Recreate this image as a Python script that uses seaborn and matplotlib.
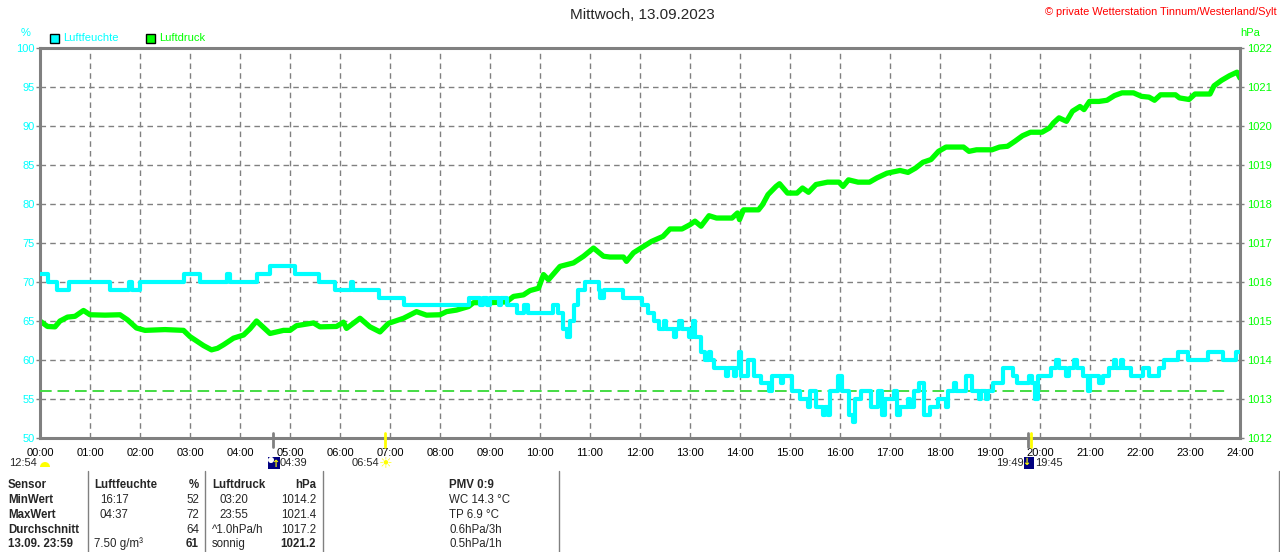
import matplotlib
matplotlib.use("Agg")
import matplotlib.pyplot as plt
import matplotlib.transforms as mtransforms
from matplotlib.patches import Rectangle, Wedge, Circle
import seaborn as sns
import pandas as pd

# Luftfeuchte (%) - Stufenwerte, Zeit in Stunden
feuchte_zeit = [0.00, 0.15, 0.33, 0.57, 1.40, 1.78, 1.83, 2.00, 2.87, 3.20, 3.73, 3.80, 4.33, 4.60,
                5.10, 5.57, 5.90, 6.22, 6.25, 6.77, 7.28, 8.57, 8.80, 8.85, 8.95, 9.00, 9.18, 9.22,
                9.33, 9.53, 9.68, 9.75, 10.25, 10.35, 10.45, 10.53, 10.60, 10.67, 10.75, 10.90, 11.17,
                11.20, 11.28, 11.65, 12.03, 12.15, 12.27, 12.37, 12.48, 12.52, 12.68, 12.72, 12.78,
                12.84, 12.97, 13.05, 13.09, 13.22, 13.30, 13.38, 13.42, 13.47, 13.72, 13.76, 13.88,
                13.92, 13.97, 14.01, 14.15, 14.28, 14.42, 14.58, 14.63, 14.82, 14.86, 15.03, 15.20,
                15.35, 15.40, 15.52, 15.65, 15.70, 15.75, 15.80, 15.95, 16.03, 16.17, 16.26, 16.31,
                16.41, 16.62, 16.76, 16.84, 16.90, 17.07, 17.13, 17.20, 17.35, 17.40, 17.47, 17.58,
                17.68, 17.80, 17.95, 18.12, 18.16, 18.28, 18.32, 18.52, 18.65, 18.78, 18.82, 18.92,
                18.96, 19.05, 19.25, 19.45, 19.53, 19.78, 19.83, 19.90, 19.96, 20.22, 20.32, 20.37,
                20.52, 20.57, 20.68, 20.74, 20.85, 20.95, 21.00, 21.17, 21.25, 21.37, 21.48, 21.52,
                21.62, 21.65, 21.82, 22.05, 22.17, 22.38, 22.48, 22.75, 22.95, 23.35, 23.65, 23.92,
                24.00]
feuchte_wert = [71, 70, 69, 70, 69, 70, 69, 70, 71, 70, 71, 70, 71, 72,
                71, 70, 69, 70, 69, 68, 67, 68, 67, 68, 67, 68, 67, 68,
                67, 66, 67, 66, 67, 66, 64, 63, 65, 67, 69, 70, 69,
                68, 69, 68, 67, 66, 65, 64, 65, 64, 63, 64, 65,
                64, 63, 65, 63, 61, 60, 61, 60, 59, 58, 59, 58,
                59, 61, 58, 60, 58, 57, 56, 58, 57, 58, 56, 55,
                54, 56, 54, 53, 54, 53, 56, 58, 56, 53, 52, 55,
                56, 54, 56, 53, 55, 56, 53, 54, 55, 54, 56, 57,
                53, 54, 55, 54, 56, 57, 56, 58, 56, 55, 56, 55,
                56, 57, 59, 58, 57, 58, 57, 55, 58, 59, 60, 59,
                58, 59, 60, 59, 58, 56, 58, 57, 58, 59, 60, 59,
                60, 59, 58, 59, 58, 59, 60, 61, 60, 61, 60, 61,
                61]

# Luftdruck (hPa)
druck_zeit = [0.00, 0.15, 0.30, 0.40, 0.55, 0.70, 0.87, 1.00, 1.30, 1.60, 1.75, 1.93, 2.10, 2.50,
              2.87, 3.00, 3.27, 3.43, 3.55, 3.67, 3.87, 4.07, 4.20, 4.33, 4.50, 4.60, 4.87, 5.00,
              5.13, 5.47, 5.60, 5.93, 6.07, 6.13, 6.40, 6.60, 6.80, 6.97, 7.27, 7.53, 7.73, 8.00,
              8.13, 8.33, 8.57, 8.67, 9.00, 9.33, 9.47, 9.67, 9.80, 9.97, 10.07, 10.17, 10.40,
              10.67, 10.87, 11.07, 11.27, 11.40, 11.67, 11.73, 11.87, 12.13, 12.23, 12.46, 12.60,
              12.84, 13.00, 13.10, 13.22, 13.38, 13.53, 13.84, 13.95, 13.99, 14.07, 14.37, 14.45,
              14.56, 14.72, 14.79, 14.95, 15.14, 15.25, 15.37, 15.52, 15.75, 15.98, 16.06, 16.17,
              16.36, 16.59, 16.74, 16.94, 17.20, 17.36, 17.51, 17.66, 17.82, 17.97, 18.12, 18.47,
              18.58, 18.73, 19.04, 19.19, 19.35, 19.50, 19.65, 19.81, 20.04, 20.19, 20.27, 20.38,
              20.53, 20.65, 20.80, 20.88, 20.99, 21.18, 21.34, 21.49, 21.64, 21.87, 22.03, 22.18,
              22.29, 22.41, 22.71, 22.79, 22.98, 23.10, 23.40, 23.48, 23.63, 23.79, 23.94, 24.00]
druck_wert = [1015.00, 1014.86, 1014.85, 1015.00, 1015.10, 1015.12, 1015.27, 1015.16, 1015.15,
              1015.16, 1015.03, 1014.82, 1014.76, 1014.78, 1014.76, 1014.60, 1014.37, 1014.26,
              1014.30, 1014.39, 1014.56, 1014.64, 1014.80, 1015.00, 1014.80, 1014.68, 1014.76,
              1014.76, 1014.88, 1014.95, 1014.85, 1014.86, 1014.97, 1014.81, 1015.07, 1014.85,
              1014.72, 1014.94, 1015.07, 1015.24, 1015.15, 1015.16, 1015.24, 1015.28, 1015.37,
              1015.47, 1015.47, 1015.49, 1015.63, 1015.67, 1015.78, 1015.84, 1016.19, 1016.06,
              1016.40, 1016.49, 1016.66, 1016.87, 1016.66, 1016.64, 1016.64, 1016.53, 1016.75,
              1016.96, 1017.04, 1017.17, 1017.36, 1017.36, 1017.47, 1017.56, 1017.43, 1017.70,
              1017.64, 1017.64, 1017.77, 1017.60, 1017.85, 1017.85, 1017.98, 1018.24, 1018.45,
              1018.52, 1018.28, 1018.28, 1018.41, 1018.30, 1018.50, 1018.56, 1018.56, 1018.45,
              1018.62, 1018.56, 1018.56, 1018.67, 1018.79, 1018.86, 1018.81, 1018.92, 1019.07,
              1019.14, 1019.35, 1019.46, 1019.46, 1019.35, 1019.39, 1019.39, 1019.46, 1019.48,
              1019.61, 1019.75, 1019.84, 1019.84, 1019.95, 1020.08, 1020.21, 1020.12, 1020.38,
              1020.50, 1020.42, 1020.63, 1020.63, 1020.66, 1020.78, 1020.85, 1020.85, 1020.76,
              1020.74, 1020.66, 1020.80, 1020.80, 1020.72, 1020.68, 1020.82, 1020.82, 1021.03,
              1021.17, 1021.29, 1021.38, 1021.23]

stunden = list(range(25))
stunden_labels = [f"{h:02d}:00" for h in stunden]
feuchte_ticks = list(range(50, 101, 5))
druck_ticks = list(range(1012, 1023))
feuchte_linie = 56      # gruene gestrichelte Linie
feuchte_linie_ende = 23.8

# Mond/Sonne Zeiten (Stunden)
mond_auf, sonne_auf, mond_unter, sonne_unter = 4.65, 6.9, 19.75, 19.817

# Tabelle unten
tab_sensor = ["Sensor", "MinWert", "MaxWert", "Durchschnitt", "13.09. 23:59"]
tab_feuchte_zeit = ["Luftfeuchte", "16:17", "04:37", "", "7.50 g/m³"]
tab_feuchte_wert = ["%", "52", "72", "64", "61"]
tab_druck_zeit = ["Luftdruck", "03:20", "23:55", "^1.0hPa/h", "sonnig"]
tab_druck_wert = ["hPa", "1014.2", "1021.4", "1017.2", "1021.2"]
tab_extra = ["PMV 0:9", "WC 14.3 °C", "TP 6.9 °C", "0.6hPa/3h", "0.5hPa/1h"]

CYAN = "#00ffff"
GRUEN = "#00ff00"
GRAU = "#808080"
W, H = 1280, 552

sns.set_theme(style="white")
plt.rcParams['font.family'] = ['Liberation Sans', 'DejaVu Sans']


def fx(x):
    return x / W


def fy(y):
    return 1 - y / H


fig = plt.figure(figsize=(12.8, 5.52), dpi=100)
ax = fig.add_axes([fx(40), fy(438), 1200 / W, 390 / H])   # Luftdruck + Gitter
ax2 = ax.twinx()                                          # Luftfeuchte oben drauf

df_druck = pd.DataFrame({"Zeit": druck_zeit, "Luftdruck": druck_wert})
df_feuchte = pd.DataFrame({"Zeit": feuchte_zeit, "Luftfeuchte": feuchte_wert})

sns.lineplot(data=df_druck, x="Zeit", y="Luftdruck", ax=ax, color=GRUEN, lw=3.8,
             estimator=None, sort=False)
ax2.hlines(feuchte_linie, 0, feuchte_linie_ende, color="#44dd44", lw=1.4,
           linestyles=(0, (6, 3)))
sns.lineplot(data=df_feuchte, x="Zeit", y="Luftfeuchte", ax=ax2, color=CYAN, lw=3,
             estimator=None, sort=False, drawstyle="steps-post")

ax.set_xlim(0, 24)
ax.set_ylim(1012, 1022)
ax2.set_ylim(50, 100)
for a in (ax, ax2):
    a.set_xlabel("")
    a.set_ylabel("")

ax.set_xticks(stunden)
ax.set_xticklabels(stunden_labels)
ax.set_yticks(druck_ticks)
ax2.set_yticks(feuchte_ticks)

# Achsen tauschen: Druck rechts, Feuchte links
ax.yaxis.tick_right()
ax2.yaxis.tick_left()

ax.grid(True, color=GRAU, lw=1, linestyle=(0, (4, 3)))
ax.tick_params(axis="x", length=0, pad=7, labelsize=8, colors="black")
ax.tick_params(axis="y", length=3, width=1, color=GRAU, pad=2, labelsize=8, labelcolor=GRUEN,
               right=True, left=False)
ax2.tick_params(axis="y", length=3, width=1, color=GRAU, pad=1, labelsize=8, labelcolor=CYAN,
                left=True, right=False)
for s in ax.spines.values():
    s.set_color(GRAU)
    s.set_linewidth(2.2)
for s in ax2.spines.values():
    s.set_visible(False)
ax.set_facecolor("white")

# Auf- / Untergang Markierungen unter der Achse
trans = mtransforms.blended_transform_factory(ax.transData, ax.transAxes)
for t, c in [(mond_auf, GRAU), (sonne_auf, "#ffff00"), (mond_unter, GRAU), (sonne_unter, "#ffff00")]:
    ax.plot([t, t], [-0.023, 0.012], color=c, lw=2, transform=trans, clip_on=False, zorder=5)

# Titel
fig.text(fx(642), fy(15), "Mittwoch, 13.09.2023", ha="center", va="center", fontsize=11)
fig.text(fx(1277), fy(12), "© private Wetterstation Tinnum/Westerland/Sylt", ha="right",
         va="center", fontsize=7.9, color="#ff0000")
fig.text(fx(26), fy(33), "%", ha="center", va="center", fontsize=8, color=CYAN)
fig.text(fx(1250), fy(33), "hPa", ha="center", va="center", fontsize=8, color=GRUEN)

# Legende
for x0, col, txt in [(50, CYAN, "Luftfeuchte"), (146, GRUEN, "Luftdruck")]:
    fig.add_artist(Rectangle((fx(x0), fy(43)), 9 / W, 9 / H, transform=fig.transFigure,
                             facecolor=col, edgecolor="black", lw=1))
    fig.text(fx(x0 + 13), fy(38), txt, ha="left", va="center", fontsize=8, color=col)

# Mond / Sonne Symbole (Pixelkoordinaten)
pix = mtransforms.IdentityTransform()
fig.text(fx(37), fy(463), "12:54", ha="right", va="center", fontsize=8)
fig.add_artist(Wedge((45, H - 467), 5, 0, 180, transform=pix,
                     facecolor="#ffff00", edgecolor="none"))
fig.add_artist(Rectangle((268, H - 469), 12, 12, transform=pix,
                         facecolor="#000080", edgecolor="none"))
fig.add_artist(Circle((271, H - 460), 3, transform=pix, facecolor="white", edgecolor="none"))
fig.text(fx(275), fy(464), "↑", ha="center", va="center", fontsize=7, color="#ffff00",
         fontweight="bold", family="DejaVu Sans")
fig.text(fx(280), fy(463), "04:39", ha="left", va="center", fontsize=8)
fig.text(fx(379), fy(463), "06:54", ha="right", va="center", fontsize=8)
fig.text(fx(386), fy(463), "☀", ha="center", va="center", fontsize=11, color="#ffff00",
         family="DejaVu Sans")
fig.text(fx(1024), fy(463), "19:49", ha="right", va="center", fontsize=8)
fig.add_artist(Rectangle((1024, H - 469), 10, 12, transform=pix,
                         facecolor="#000080", edgecolor="none"))
fig.text(fx(1026), fy(462), "↓", ha="center", va="center", fontsize=7, color="#ffff00",
         fontweight="bold", family="DejaVu Sans")
fig.text(fx(1035), fy(463), "19:45", ha="left", va="center", fontsize=8)

# Tabelle
zeilen_y = [485, 500, 515, 530, 544]
for x0 in [88, 205, 323, 559]:
    fig.add_artist(plt.Line2D([fx(x0), fx(x0)], [fy(471), fy(552)], color=GRAU, lw=1,
                              transform=fig.transFigure))
fig.add_artist(plt.Line2D([fx(1279), fx(1279)], [fy(471), fy(552)], color=GRAU, lw=1,
                          transform=fig.transFigure))

for i, y in enumerate(zeilen_y):
    kopf = i == 0
    fig.text(fx(8), fy(y), tab_sensor[i], ha="left", va="center", fontsize=8.3, fontweight="bold")
    fig.text(fx(94 if kopf or i == 4 else 100), fy(y), tab_feuchte_zeit[i], ha="left",
             va="center", fontsize=8.3, fontweight="bold" if kopf else "normal")
    fig.text(fx(199), fy(y), tab_feuchte_wert[i], ha="right", va="center", fontsize=8.3,
             fontweight="bold" if kopf or i == 4 else "normal")
    fig.text(fx(212 if i in (0, 3, 4) else 219), fy(y), tab_druck_zeit[i], ha="left",
             va="center", fontsize=8.3, fontweight="bold" if kopf else "normal")
    fig.text(fx(316), fy(y), tab_druck_wert[i], ha="right", va="center", fontsize=8.3,
             fontweight="bold" if kopf or i == 4 else "normal")
    fig.text(fx(449), fy(y), tab_extra[i], ha="left", va="center", fontsize=8.3,
             fontweight="bold" if kopf else "normal")

fig.savefig("out.png", dpi=100)
